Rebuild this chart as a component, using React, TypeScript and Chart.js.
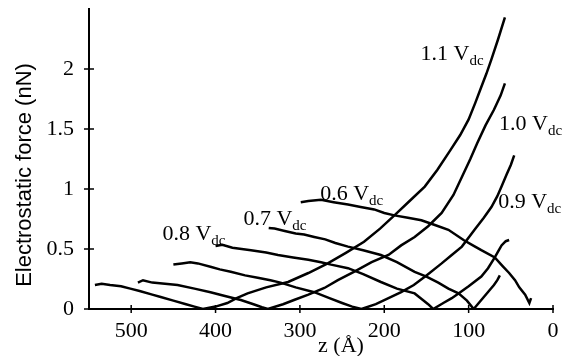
import { useEffect, useRef } from 'react';
import { Chart, registerables } from 'chart.js';
Chart.register(...registerables);

// z (Å) and force (nN) for each curve
const z11 = [543, 535, 525, 512, 501, 490, 475, 465, 450, 435, 425, 415, 400, 386, 375, 362, 340, 314, 290, 267, 245, 224, 205, 188, 170, 152, 137, 122, 110, 100, 92, 85, 79, 73, 65, 57];
const f11 = [0.2, 0.21, 0.2, 0.19, 0.17, 0.15, 0.12, 0.1, 0.07, 0.04, 0.02, 0.0, 0.02, 0.05, 0.09, 0.13, 0.18, 0.225, 0.3, 0.38, 0.47, 0.56, 0.67, 0.78, 0.9, 1.02, 1.16, 1.32, 1.45, 1.58, 1.72, 1.85, 1.96, 2.08, 2.25, 2.43];

const z10 = [492, 486, 475, 460, 445, 425, 406, 390, 370, 355, 345, 338, 320, 307, 290, 271, 255, 236, 215, 195, 180, 164, 148, 132, 118, 108, 98, 90, 80, 70, 62, 57];
const f10 = [0.22, 0.24, 0.22, 0.21, 0.2, 0.17, 0.14, 0.11, 0.075, 0.04, 0.015, 0.0, 0.04, 0.075, 0.12, 0.175, 0.24, 0.31, 0.39, 0.45, 0.53, 0.6, 0.69, 0.8, 0.95, 1.1, 1.25, 1.38, 1.53, 1.66, 1.78, 1.88];

const z09 = [450, 440, 430, 421, 405, 395, 382, 365, 350, 335, 323, 305, 283, 265, 250, 238, 227, 210, 195, 180, 165, 150, 132, 120, 108, 93, 82, 73, 66, 61, 55, 50, 46];
const f09 = [0.37, 0.38, 0.39, 0.38, 0.35, 0.33, 0.31, 0.28, 0.26, 0.24, 0.22, 0.18, 0.14, 0.09, 0.05, 0.02, 0.0, 0.04, 0.09, 0.14, 0.2, 0.28, 0.38, 0.45, 0.52, 0.66, 0.76, 0.85, 0.94, 1.02, 1.12, 1.2, 1.28];

const z08 = [400, 392, 380, 358, 340, 326, 308, 290, 275, 263, 243, 225, 204, 185, 164, 155, 148, 142, 130, 120, 112, 100, 85, 77, 69, 65, 61, 56, 52];
const f08 = [0.525, 0.535, 0.51, 0.49, 0.47, 0.45, 0.43, 0.41, 0.39, 0.37, 0.34, 0.29, 0.225, 0.17, 0.13, 0.08, 0.04, 0.0, 0.05, 0.09, 0.13, 0.19, 0.27, 0.34, 0.43, 0.48, 0.53, 0.565, 0.575];

const z07 = [337, 330, 318, 305, 295, 283, 270, 258, 243, 225, 204, 185, 164, 150, 136, 124, 112, 102, 94, 88, 82, 76, 70, 66, 63];
const f07 = [0.675, 0.67, 0.65, 0.63, 0.62, 0.6, 0.58, 0.55, 0.52, 0.49, 0.45, 0.39, 0.31, 0.27, 0.22, 0.17, 0.13, 0.07, 0.0, 0.05, 0.1, 0.15, 0.2, 0.24, 0.28];

const z06 = [299, 290, 275, 260, 243, 228, 212, 200, 188, 172, 156, 140, 124, 106, 95, 85, 69, 60, 52, 45, 40, 33, 28, 26];
const f06 = [0.89, 0.9, 0.91, 0.89, 0.87, 0.85, 0.83, 0.8, 0.78, 0.76, 0.74, 0.7, 0.66, 0.575, 0.53, 0.49, 0.43, 0.36, 0.3, 0.24, 0.18, 0.12, 0.05, 0.09];

const seriesZ = [z11, z10, z09, z08, z07, z06];
const seriesF = [f11, f10, f09, f08, f07, f06];

// curve labels: text, and anchor in data units (z, force)
const labelText = ['1.1 V', '1.0 V', '0.9 V', '0.8 V', '0.7 V', '0.6 V'];
const labelSub = ['dc', 'dc', 'dc', 'dc', 'dc', 'dc'];
const labelZ = [157, 64, 65, 463, 367, 276];
const labelF = [2.075, 1.49, 0.84, 0.575, 0.7, 0.91];

const xTitle = 'z (Å)';
const yTitle = 'Electrostatic force (nN)';

const SERIF = '"Liberation Serif", "Times New Roman", serif';
const SANS = '"Liberation Sans", Arial, sans-serif';

const decorPlugin = {
  id: 'decor',
  afterDraw(chart: any) {
    const { ctx, chartArea } = chart;
    const xs = chart.scales.x;
    const ys = chart.scales.y;
    ctx.save();
    ctx.strokeStyle = '#000';
    ctx.lineWidth = 1.5;
    ctx.beginPath();
    xs.ticks.forEach((t: any) => {
      const px = xs.getPixelForValue(t.value);
      ctx.moveTo(px, chartArea.bottom - 4);
      ctx.lineTo(px, chartArea.bottom + 4);
    });
    ys.ticks.forEach((t: any) => {
      const py = ys.getPixelForValue(t.value);
      ctx.moveTo(chartArea.left - 5, py);
      ctx.lineTo(chartArea.left + 5, py);
    });
    ctx.stroke();

    ctx.fillStyle = '#000';
    ctx.textBaseline = 'alphabetic';
    ctx.textAlign = 'left';
    for (let i = 0; i < labelText.length; i++) {
      const px = xs.getPixelForValue(labelZ[i]);
      const py = ys.getPixelForValue(labelF[i]);
      ctx.font = `22px ${SERIF}`;
      ctx.fillText(labelText[i], px, py);
      const w = ctx.measureText(labelText[i]).width;
      ctx.font = `15px ${SERIF}`;
      ctx.fillText(labelSub[i], px + w, py + 5);
    }

    ctx.font = `22px ${SERIF}`;
    ctx.textAlign = 'center';
    ctx.fillText(xTitle, (chartArea.left + chartArea.right) / 2 + 20, chart.height - 4);

    ctx.translate(25, (chartArea.top + chartArea.bottom) / 2 + 16);
    ctx.rotate(-Math.PI / 2);
    ctx.font = `22px ${SANS}`;
    ctx.textBaseline = 'middle';
    ctx.fillText(yTitle, 0, 0);
    ctx.restore();
  },
};

export default function App() {
  const ref = useRef<HTMLCanvasElement>(null);
  useEffect(() => {
    document.body.style.margin = '0';
    const datasets = seriesZ.map((zs, i) => ({
      label: labelText[i] + labelSub[i],
      data: zs.map((z, j) => ({ x: z, y: seriesF[i][j] })),
      borderColor: '#000',
      borderWidth: 2.5,
      pointRadius: 0,
      tension: 0,
      fill: false,
    }));
    const chart = new Chart(ref.current!, {
      type: 'line',
      data: { datasets },
      options: {
        responsive: false,
        animation: false,
        layout: { padding: { top: 9, right: 18, left: 0, bottom: 0 } },
        plugins: { legend: { display: false }, tooltip: { enabled: false }, title: { display: false } },
        scales: {
          x: {
            type: 'linear',
            reverse: true,
            min: 0,
            max: 550,
            grid: { display: false },
            border: { display: true, color: '#000', width: 2 },
            ticks: {
              stepSize: 50,
              autoSkip: false,
              maxRotation: 0,
              color: '#000',
              padding: 1,
              font: { family: SERIF, size: 22 },
              callback: (v: any) => (Math.round(v) % 100 === 0 ? String(Math.round(v)) : null),
            },
            afterFit: (s: any) => { s.height = 47; s.paddingLeft = 0; s.paddingRight = 0; },
          },
          y: {
            type: 'linear',
            min: 0,
            max: 2.5,
            grid: { display: false },
            border: { display: true, color: '#000', width: 2 },
            ticks: {
              stepSize: 0.5,
              autoSkip: false,
              color: '#000',
              padding: 7,
              font: { family: SERIF, size: 22 },
              callback: (v: any) => (Math.abs(v - 2.5) < 1e-6 ? null : String(Math.round(v * 10) / 10)),
            },
            afterFit: (s: any) => { s.width = 89; s.paddingTop = 0; s.paddingBottom = 0; },
          },
        },
      },
      plugins: [decorPlugin],
    });
    return () => chart.destroy();
  }, []);
  return (
    <div style={{ width: 571, height: 356 }}>
      <canvas ref={ref} width={571} height={356} style={{ display: 'block' }} />
    </div>
  );
}
